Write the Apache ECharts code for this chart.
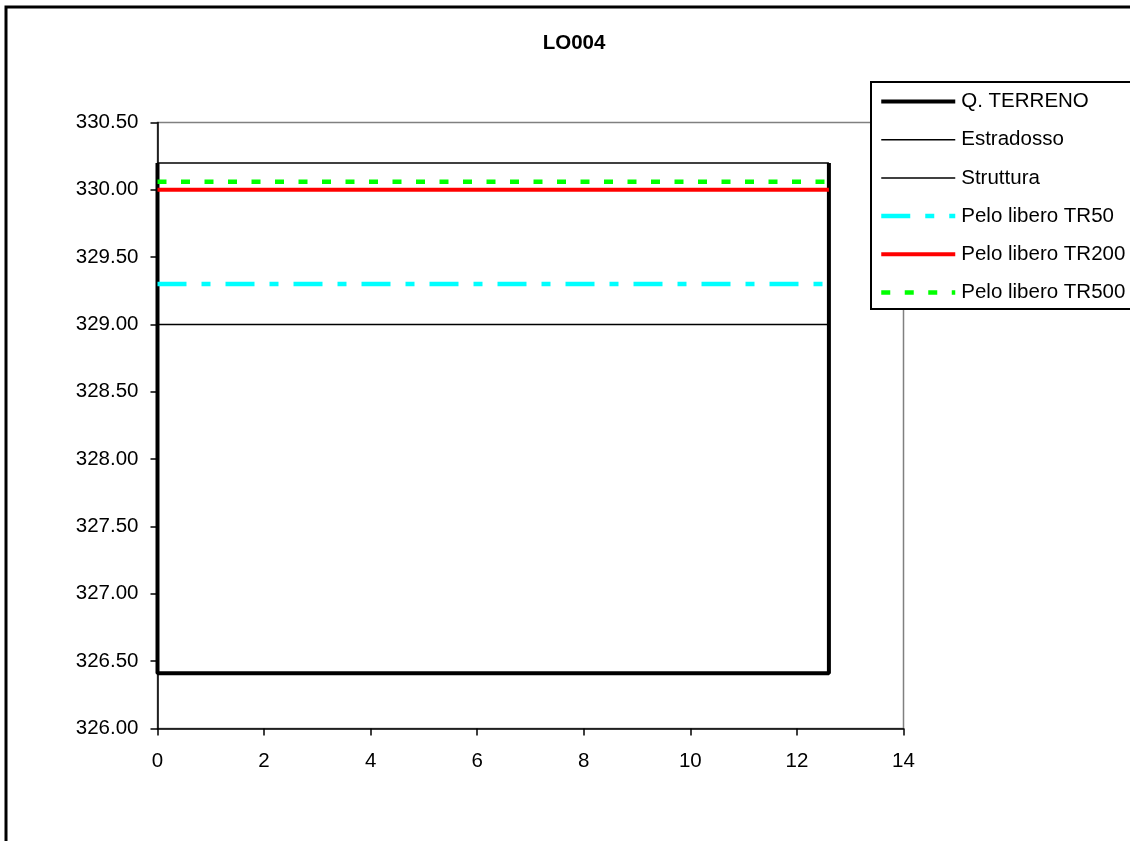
<!DOCTYPE html>
<html>
<head>
<meta charset="utf-8">
<script src="https://cdn.jsdelivr.net/npm/echarts@6/dist/echarts.min.js"></script>
<style>
html,body{margin:0;padding:0;background:#fff;}
#chart{width:1130px;height:841px;}
</style>
</head>
<body>
<div id="chart"></div>
<script>
// ---- data ----
const titleText = 'LO004';
const seriesNames = ['Q. TERRENO', 'Estradosso', 'Struttura', 'Pelo libero TR50', 'Pelo libero TR200', 'Pelo libero TR500'];
const terrenoX = [0, 0, 12.6, 12.6];
const terrenoY = [330.2, 326.41, 326.41, 330.2];
const estradossoX = [0, 12.6];
const estradossoY = [330.2, 330.2];
const strutturaX = [0, 12.6];
const strutturaY = [329.0, 329.0];
const tr50X = [0, 12.6];
const tr50Y = [329.3, 329.3];
const tr200X = [0, 12.6];
const tr200Y = [330.0, 330.0];
const tr500X = [0, 12.6];
const tr500Y = [330.06, 330.06];
const xMin = 0, xMax = 14, xStep = 2;
const yMin = 326, yMax = 330.5, yStep = 0.5;

function pairs(xs, ys) { return xs.map((x, i) => [x, ys[i]]); }

const FONT = "'Liberation Sans', Arial, sans-serif";
const chart = echarts.init(document.getElementById('chart'), null, {renderer: 'canvas'});

function mkSeries(name, xs, ys, color, width, type) {
  return {
    name: name,
    type: 'line',
    data: pairs(xs, ys),
    symbol: 'none',
    showSymbol: false,
    animation: false,
    silent: true,
    lineStyle: {color: color, width: width, type: type, cap: 'butt'},
    itemStyle: {color: color}
  };
}

chart.setOption({
  animation: false,
  backgroundColor: '#fff',
  textStyle: {fontFamily: FONT, color: '#000'},
  title: {
    text: titleText,
    left: 574,
    top: 33,
    textAlign: 'center',
    padding: 0,
    textStyle: {fontFamily: FONT, fontSize: 20.5, fontWeight: 'bold', color: '#000'}
  },
  graphic: [{
    type: 'rect',
    shape: {x: 6, y: 7, width: 1300, height: 1000},
    style: {fill: 'none', stroke: '#000', lineWidth: 3},
    silent: true,
    z: 100
  }],
  grid: {
    left: 157.5, right: 226.5, top: 122.5, bottom: 112.5,
    show: true, borderColor: '#808080', borderWidth: 1.5, backgroundColor: 'transparent'
  },
  legend: {
    orient: 'vertical',
    left: 871, top: 82,
    padding: [9, 40, 6, 8],
    backgroundColor: '#fff',
    borderColor: '#000',
    borderWidth: 2,
    itemWidth: 74,
    itemHeight: 14,
    itemGap: 17.2,
    data: seriesNames,
    itemStyle: {opacity: 0},
    lineStyle: {width: 'inherit', type: 'inherit'},
    textStyle: {fontFamily: FONT, fontSize: 20.5, color: '#000', lineHeight: 20, padding: [0,0,0,1]},
    z: 50
  },
  xAxis: {
    type: 'value', min: xMin, max: xMax, interval: xStep,
    axisLine: {show: true, onZero: false, lineStyle: {color: '#000', width: 1.5}},
    axisTick: {show: true, inside: false, length: 7, lineStyle: {color: '#000', width: 1.5}},
    axisLabel: {fontFamily: FONT, fontSize: 20.5, color: '#000', margin: 22},
    splitLine: {show: false}
  },
  yAxis: {
    type: 'value', min: yMin, max: yMax, interval: yStep,
    axisLine: {show: true, onZero: false, lineStyle: {color: '#000', width: 1.5}},
    axisTick: {show: true, inside: false, length: 7, lineStyle: {color: '#000', width: 1.5}},
    axisLabel: {fontFamily: FONT, fontSize: 20.5, color: '#000', margin: 19, formatter: v => v.toFixed(2)},
    splitLine: {show: false}
  },
  series: [
    mkSeries(seriesNames[0], terrenoX, terrenoY, '#000', 4, 'solid'),
    mkSeries(seriesNames[1], estradossoX, estradossoY, '#000', 1.5, 'solid'),
    mkSeries(seriesNames[2], strutturaX, strutturaY, '#000', 1.5, 'solid'),
    mkSeries(seriesNames[3], tr50X, tr50Y, '#00ffff', 4.5, [29, 15, 9, 15]),
    mkSeries(seriesNames[4], tr200X, tr200Y, '#ff0000', 4, 'solid'),
    mkSeries(seriesNames[5], tr500X, tr500Y, '#00ff00', 4.5, [9, 14.5])
  ]
});
</script>
</body>
</html>
